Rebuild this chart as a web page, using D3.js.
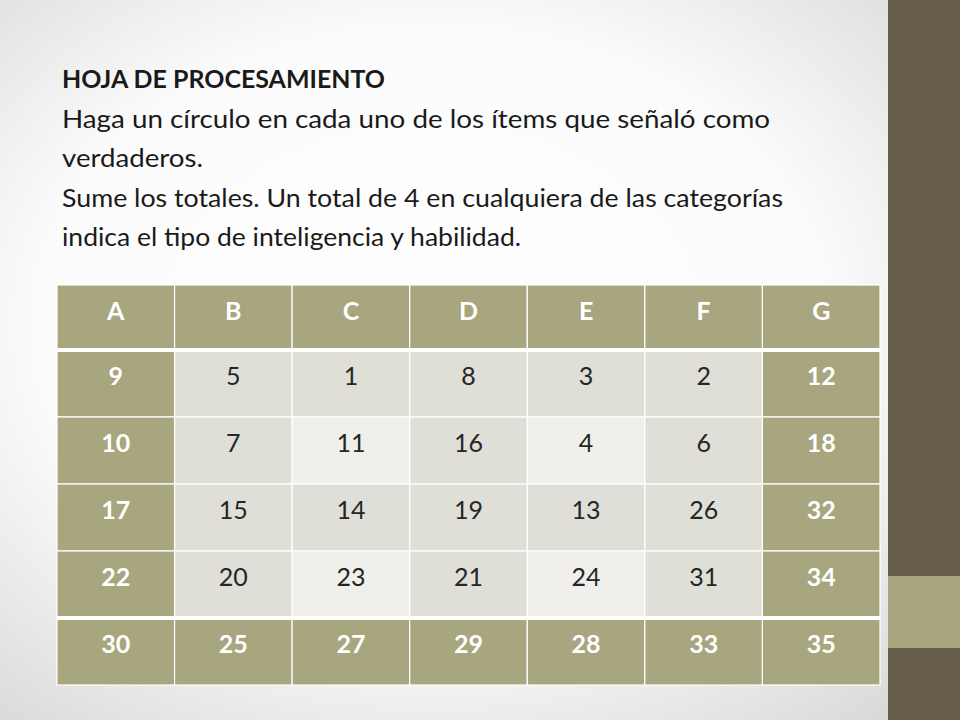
<!DOCTYPE html>
<html><head><meta charset="utf-8">
<script src="https://cdn.jsdelivr.net/npm/d3@7"></script>
<style>body{margin:0}svg{display:block}</style></head>
<body><svg id="c" width="960" height="720"></svg>
<script>
// table contents
var headers = ['A', 'B', 'C', 'D', 'E', 'F', 'G'];
var rows = [
  [9, 5, 1, 8, 3, 2, 12],
  [10, 7, 11, 16, 4, 6, 18],
  [17, 15, 14, 19, 13, 26, 32],
  [22, 20, 23, 21, 24, 31, 34],
  [30, 25, 27, 29, 28, 33, 35]
];
var titleLines = [
  { text: 'HOJA DE PROCESAMIENTO', bold: true, w: 323 },
  { text: 'Haga un círculo en cada uno de los ítems que señaló como', w: 708 },
  { text: 'verdaderos.', w: 141 },
  { text: 'Sume los totales. Un total de 4 en cualquiera de las categorías', w: 721 },
  { text: 'indica el tipo de inteligencia y habilidad.', w: 459 }
];

var svg = d3.select('#c');
var olive = '#a8a67e', dark = '#e0dfd7', light = '#f0efeb';

var defs = svg.append('defs');
var g = defs.append('radialGradient').attr('id', 'bg').attr('cx', '45%').attr('cy', '45%').attr('r', '75%');
g.append('stop').attr('offset', '0%').attr('stop-color', '#ffffff');
g.append('stop').attr('offset', '55%').attr('stop-color', '#fbfbfb');
g.append('stop').attr('offset', '100%').attr('stop-color', '#d6d6d6');
svg.append('rect').attr('width', 960).attr('height', 720).attr('fill', 'url(#bg)');

// right strip
svg.append('rect').attr('x', 888).attr('y', 0).attr('width', 72).attr('height', 720).attr('fill', '#665e48');
svg.append('rect').attr('x', 888).attr('y', 576).attr('width', 72).attr('height', 72).attr('fill', olive);

// title
var font = "Lato, 'Open Sans', sans-serif";
svg.selectAll('.t').data(titleLines).enter().append('text')
  .attr('x', 62).attr('y', (d, i) => 88 + i * 39.5)
  .attr('font-family', font).attr('font-size', 25)
  .attr('font-weight', d => d.bold ? 700 : 400).attr('fill', '#1a1a1a')
  .attr('textLength', d => d.w).attr('lengthAdjust', 'spacingAndGlyphs')
  .text(d => d.text);

// table
var x = d3.scaleBand().domain(d3.range(headers.length)).range([57, 880]);
var yTop = 285, headH = 65;
var y = d3.scaleBand().domain(d3.range(rows.length)).range([yTop + headH, 685]);

function cellFill(r, c) {
  if (c === 0 || c === headers.length - 1 || r === rows.length - 1) return olive;
  return (r % 2 === 1 && c % 2 === 0) ? light : dark;
}

var tg = svg.append('g');
tg.selectAll('.h').data(headers).enter().append('rect')
  .attr('x', (d, i) => x(i)).attr('y', yTop).attr('width', x.bandwidth()).attr('height', headH)
  .attr('fill', olive).attr('stroke', '#fff').attr('stroke-width', 1.2);
tg.selectAll('.ht').data(headers).enter().append('text')
  .attr('x', (d, i) => x(i) + x.bandwidth() / 2).attr('y', yTop + 35)
  .attr('text-anchor', 'middle').attr('font-family', font).attr('font-weight', 700)
  .attr('font-size', 25).attr('fill', '#fff').text(d => d);

var cells = [];
rows.forEach((row, r) => row.forEach((v, c) => cells.push({ r: r, c: c, v: v })));
tg.selectAll('.cell').data(cells).enter().append('rect')
  .attr('x', d => x(d.c)).attr('y', d => y(d.r)).attr('width', x.bandwidth()).attr('height', y.bandwidth())
  .attr('fill', d => cellFill(d.r, d.c)).attr('stroke', '#fff').attr('stroke-width', 1.2);
tg.selectAll('.ct').data(cells).enter().append('text')
  .attr('x', d => x(d.c) + x.bandwidth() / 2).attr('y', d => y(d.r) + 35)
  .attr('text-anchor', 'middle').attr('font-family', font).attr('font-size', 25)
  .attr('font-weight', d => cellFill(d.r, d.c) === olive ? 700 : 400)
  .attr('fill', d => cellFill(d.r, d.c) === olive ? '#fff' : '#262626')
  .text(d => d.v);

// thick separators under header and above last row
[yTop + headH, y(rows.length - 1)].forEach(yy => {
  tg.append('line').attr('x1', 57).attr('x2', 880).attr('y1', yy).attr('y2', yy)
    .attr('stroke', '#fff').attr('stroke-width', 4);
});
</script></body></html>
